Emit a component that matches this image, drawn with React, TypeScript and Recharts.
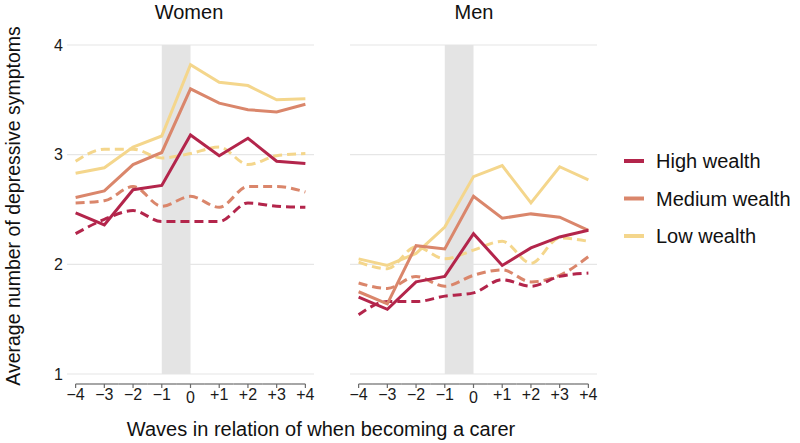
import React from 'react';
import {
  LineChart,
  Line,
  XAxis,
  YAxis,
  CartesianGrid,
  ReferenceArea,
} from 'recharts';

// waves relative to becoming a carer
const waves = [-4, -3, -2, -1, 0, 1, 2, 3, 4];
const waveLabels = ['\u22124', '\u22123', '\u22122', '\u22121', '0', '+1', '+2', '+3', '+4'];
const yTicks = [1, 2, 3, 4];

// Women: solid = carers, dashed = non-carers
const womenHighCarer = [2.47, 2.36, 2.68, 2.72, 3.18, 2.99, 3.15, 2.94, 2.92];
const womenMedCarer = [2.61, 2.67, 2.91, 3.02, 3.6, 3.47, 3.41, 3.39, 3.46];
const womenLowCarer = [2.83, 2.88, 3.07, 3.17, 3.82, 3.66, 3.63, 3.5, 3.51];
const womenHighNon = [2.28, 2.41, 2.49, 2.39, 2.39, 2.39, 2.56, 2.53, 2.52];
const womenMedNon = [2.56, 2.58, 2.71, 2.53, 2.62, 2.52, 2.71, 2.71, 2.66];
const womenLowNon = [2.94, 3.05, 3.05, 2.97, 3.01, 3.07, 2.91, 2.99, 3.01];

// Men
const menHighCarer = [1.7, 1.59, 1.84, 1.89, 2.28, 1.99, 2.15, 2.25, 2.31];
const menMedCarer = [1.75, 1.64, 2.17, 2.14, 2.62, 2.42, 2.46, 2.43, 2.31];
const menLowCarer = [2.05, 1.99, 2.1, 2.34, 2.8, 2.9, 2.56, 2.89, 2.77];
const menHighNon = [1.54, 1.66, 1.66, 1.71, 1.74, 1.86, 1.8, 1.89, 1.92];
const menMedNon = [1.83, 1.78, 1.89, 1.8, 1.9, 1.95, 1.84, 1.9, 2.07];
const menLowNon = [2.02, 1.96, 2.16, 2.05, 2.13, 2.21, 2.01, 2.24, 2.21];

const legendItems = ['High wealth', 'Medium wealth', 'Low wealth'];

const HIGH = '#b3254b';
const MED = '#da866b';
const LOW = '#f4d68c';
const FONT = '"Liberation Sans", Arial, Helvetica, sans-serif';

const X_DOMAIN: [number, number] = [-4.3, 4.3];
const PLOT_W = 247;
const STEP = PLOT_W / (X_DOMAIN[1] - X_DOMAIN[0]);

const buildRows = (
  high: number[], med: number[], low: number[],
  highN: number[], medN: number[], lowN: number[],
) =>
  waves.map((w, i) => ({
    x: w,
    high: high[i],
    med: med[i],
    low: low[i],
    highN: highN[i],
    medN: medN[i],
    lowN: lowN[i],
  }));

const womenData = buildRows(womenHighCarer, womenMedCarer, womenLowCarer, womenHighNon, womenMedNon, womenLowNon);
const menData = buildRows(menHighCarer, menMedCarer, menLowCarer, menHighNon, menMedNon, menLowNon);

const WaveTick = (props: any) => {
  const { x, y, payload } = props;
  const i = waves.indexOf(payload.value);
  const lineY = y + 10;
  const left = i === 0 ? x : x - STEP / 2;
  const right = i === waves.length - 1 ? x : x + STEP / 2;
  return (
    <g>
      <line x1={left} x2={right} y1={lineY} y2={lineY} stroke="#6b6b6b" strokeWidth={1.2} />
      <line x1={x} x2={x} y1={lineY} y2={lineY + 4} stroke="#6b6b6b" strokeWidth={1.2} />
      <text
        x={x}
        y={payload.value === 0 ? y + 29 : y + 26}
        textAnchor="middle"
        fontSize={16}
        fontFamily={FONT}
        fill="#1a1a1a"
      >
        {waveLabels[i]}
      </text>
    </g>
  );
};

const dash = '9 5';

const Panel = ({ data, left, showY }: { data: any[]; left: number; showY: boolean }) => (
  <div style={{ position: 'absolute', left, top: 0 }}>
    <LineChart
      width={showY ? 67 + PLOT_W + 10 : 20 + PLOT_W + 10}
      height={443}
      data={data}
      margin={{ top: 45, right: 10, bottom: 39, left: showY ? 0 : 20 }}
    >
      <CartesianGrid vertical={false} stroke="#e6e6e6" strokeWidth={1.2} />
      <ReferenceArea x1={-1} x2={0} y1={1} y2={4} fill="#e4e4e4" fillOpacity={1} stroke="none" />
      <XAxis
        type="number"
        dataKey="x"
        domain={X_DOMAIN}
        ticks={waves}
        interval={0}
        allowDataOverflow
        axisLine={false}
        tickLine={false}
        tickSize={0}
        tickMargin={0}
        height={30}
        tick={<WaveTick />}
      />
      <YAxis
        type="number"
        domain={[1, 4]}
        ticks={yTicks}
        hide={!showY}
        width={67}
        axisLine={false}
        tickLine={false}
        tickSize={0}
        tickMargin={4}
        tick={{ fontSize: 16, fill: '#1a1a1a', fontFamily: FONT }}
      />
      <Line type="monotone" dataKey="lowN" stroke={LOW} strokeWidth={3} strokeDasharray={dash} dot={false} isAnimationActive={false} />
      <Line type="monotone" dataKey="medN" stroke={MED} strokeWidth={3} strokeDasharray={dash} dot={false} isAnimationActive={false} />
      <Line type="monotone" dataKey="highN" stroke={HIGH} strokeWidth={3} strokeDasharray={dash} dot={false} isAnimationActive={false} />
      <Line type="linear" dataKey="low" stroke={LOW} strokeWidth={3} dot={false} isAnimationActive={false} />
      <Line type="linear" dataKey="med" stroke={MED} strokeWidth={3} dot={false} isAnimationActive={false} />
      <Line type="linear" dataKey="high" stroke={HIGH} strokeWidth={3} dot={false} isAnimationActive={false} />
    </LineChart>
  </div>
);

export default function App() {
  const legendColors = [HIGH, MED, LOW];
  return (
    <div style={{ position: 'fixed', left: 0, top: 0, width: 800, height: 443, background: '#fff', fontFamily: FONT }}>
      <Panel data={womenData} left={0} showY />
      <Panel data={menData} left={330} showY={false} />
      <svg width={800} height={443} style={{ position: 'absolute', left: 0, top: 0, pointerEvents: 'none' }}>
        <text x={189} y={19} textAnchor="middle" fontSize={20} fill="#111" fontFamily={FONT}>Women</text>
        <text x={474} y={19} textAnchor="middle" fontSize={20} fill="#111" fontFamily={FONT}>Men</text>
        <text
          transform="translate(20,206) rotate(-90)"
          textAnchor="middle"
          fontSize={19.5}
          fill="#111"
          fontFamily={FONT}
        >
          Average number of depressive symptoms
        </text>
        <text x={321} y={436} textAnchor="middle" fontSize={20} fill="#111" fontFamily={FONT}>
          Waves in relation of when becoming a carer
        </text>
        {legendItems.map((name, i) => (
          <g key={name}>
            <line x1={624} x2={644} y1={161 + i * 37.5} y2={161 + i * 37.5} stroke={legendColors[i]} strokeWidth={4} />
            <text x={656} y={161 + i * 37.5} dy="0.35em" fontSize={20} fill="#111" fontFamily={FONT}>
              {name}
            </text>
          </g>
        ))}
      </svg>
    </div>
  );
}
